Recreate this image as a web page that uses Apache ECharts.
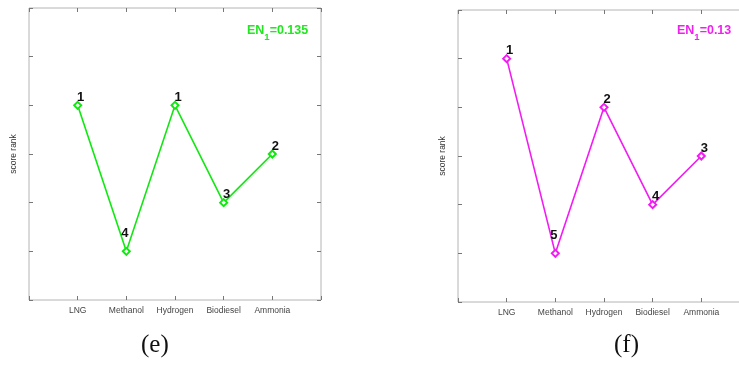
<!DOCTYPE html>
<html>
<head>
<meta charset="utf-8">
<script src="https://cdn.jsdelivr.net/npm/echarts@6/dist/echarts.min.js"></script>
<style>
	html, body { margin: 0; padding: 0; background: #fff; }
	#main { width: 739px; height: 365px; }
</style>
</head>
<body>
<div id="main"></div>
<script>
	// 数据
	var fuels = ['LNG', 'Methanol', 'Hydrogen', 'Biodiesel', 'Ammonia']
	var scoreE = [4, 1, 4, 2, 3]
	var rankE = [1, 4, 1, 3, 2]
	var scoreF = [5, 1, 4, 2, 3]
	var rankF = [1, 5, 2, 4, 3]
	var enE = '0.135'
	var enF = '0.13'

	var boxColor = '#b4b4b4'
	var fontSans = 'Liberation Sans, Arial, sans-serif'

	function tick() {
		return { show: true, inside: true, length: 4, lineStyle: { color: '#777', width: 1 } }
	}

	// x positions 1..5 on a 0..6 axis
	function pts(vals) {
		return vals.map(function (v, i) { return [i + 1, v] })
	}

	function xAxes(gi) {
		return [
			{
				gridIndex: gi, type: 'value', min: 0, max: 6, interval: 1, position: 'bottom',
				axisLine: { show: false, onZero: false },
				axisTick: tick(),
				splitLine: { show: false },
				axisLabel: {
					color: '#444', fontSize: 8.5, fontFamily: fontSans, margin: 6,
					formatter: function (v) { return fuels[v - 1] || '' }
				}
			},
			{
				gridIndex: gi, type: 'value', min: 0, max: 6, interval: 1, position: 'top',
				axisLine: { show: false, onZero: false },
				axisTick: tick(),
				splitLine: { show: false },
				axisLabel: { show: false }
			}
		]
	}

	function yAxes(gi) {
		return [
			{
				gridIndex: gi, type: 'value', min: 0, max: 6, interval: 1, position: 'left',
				name: 'score rank', nameLocation: 'middle', nameGap: 11,
				nameTextStyle: { color: '#333', fontSize: 8.5, fontFamily: fontSans },
				axisLine: { show: false, onZero: false },
				axisTick: tick(),
				splitLine: { show: false },
				axisLabel: { show: false }
			},
			{
				gridIndex: gi, type: 'value', min: 0, max: 6, interval: 1, position: 'right',
				axisLine: { show: false, onZero: false },
				axisTick: tick(),
				splitLine: { show: false },
				axisLabel: { show: false }
			}
		]
	}

	function series_data(gi, vals, ranks, color) {
		return {
			type: 'line',
			xAxisIndex: gi * 2,
			yAxisIndex: gi * 2,
			data: pts(vals),
			symbol: 'emptyDiamond',
			symbolSize: 7,
			lineStyle: { color: color, width: 1.6 },
			itemStyle: { color: color, borderWidth: 1.6 },
			label: {
				show: true,
				position: 'inside',
				color: '#111',
				fontWeight: 'bold',
				fontSize: 13,
				fontFamily: fontSans,
				formatter: function (p) { return ranks[p.dataIndex] }
			},
			labelLayout: function (p) {
				// the low point label sits higher, left of the line
				if (p.dataIndex === 1) return { dx: -1.5, dy: -18 }
				return { dx: 3, dy: -8 }
			},
			animation: false,
			z: 3
		}
	}

	function enText(left, value, color) {
		return {
			type: 'text',
			left: left,
			top: 24,
			style: {
				text: '{a|EN}{s|1}{a|=' + value + '}',
				rich: {
					a: { fontSize: 12.5, fontWeight: 'bold', fill: color, fontFamily: fontSans, lineHeight: 13, verticalAlign: 'top' },
					s: { fontSize: 9.5, fontWeight: 'bold', fill: color, fontFamily: fontSans, lineHeight: 18, verticalAlign: 'bottom' }
				}
			}
		}
	}

	var myChart = echarts.init(document.getElementById('main'))
	var gridBase = { show: true, borderColor: boxColor, borderWidth: 1, backgroundColor: 'transparent', outerBoundsMode: 'none', containLabel: false }
	var option = {
		backgroundColor: '#fff',
		animation: false,
		grid: [
			Object.assign({ left: 29, top: 8, width: 292, height: 292 }, gridBase),
			Object.assign({ left: 458, top: 10, width: 292, height: 292 }, gridBase)
		],
		xAxis: xAxes(0).concat(xAxes(1)),
		yAxis: yAxes(0).concat(yAxes(1)),
		series: [
			series_data(0, scoreE, rankE, '#11e811'),
			series_data(1, scoreF, rankF, '#f21cf2')
		],
		graphic: [
			enText(247, enE, '#22e622'),
			enText(677, enF, '#ee22ee'),
			{
				type: 'text', left: 141, top: 333,
				style: { text: '(e)', fontSize: 25, fontFamily: 'Liberation Serif, serif', fill: '#111' }
			},
			{
				type: 'text', left: 614, top: 333,
				style: { text: '(f)', fontSize: 25, fontFamily: 'Liberation Serif, serif', fill: '#111' }
			}
		]
	}
	myChart.setOption(option, true)
</script>
</body>
</html>
